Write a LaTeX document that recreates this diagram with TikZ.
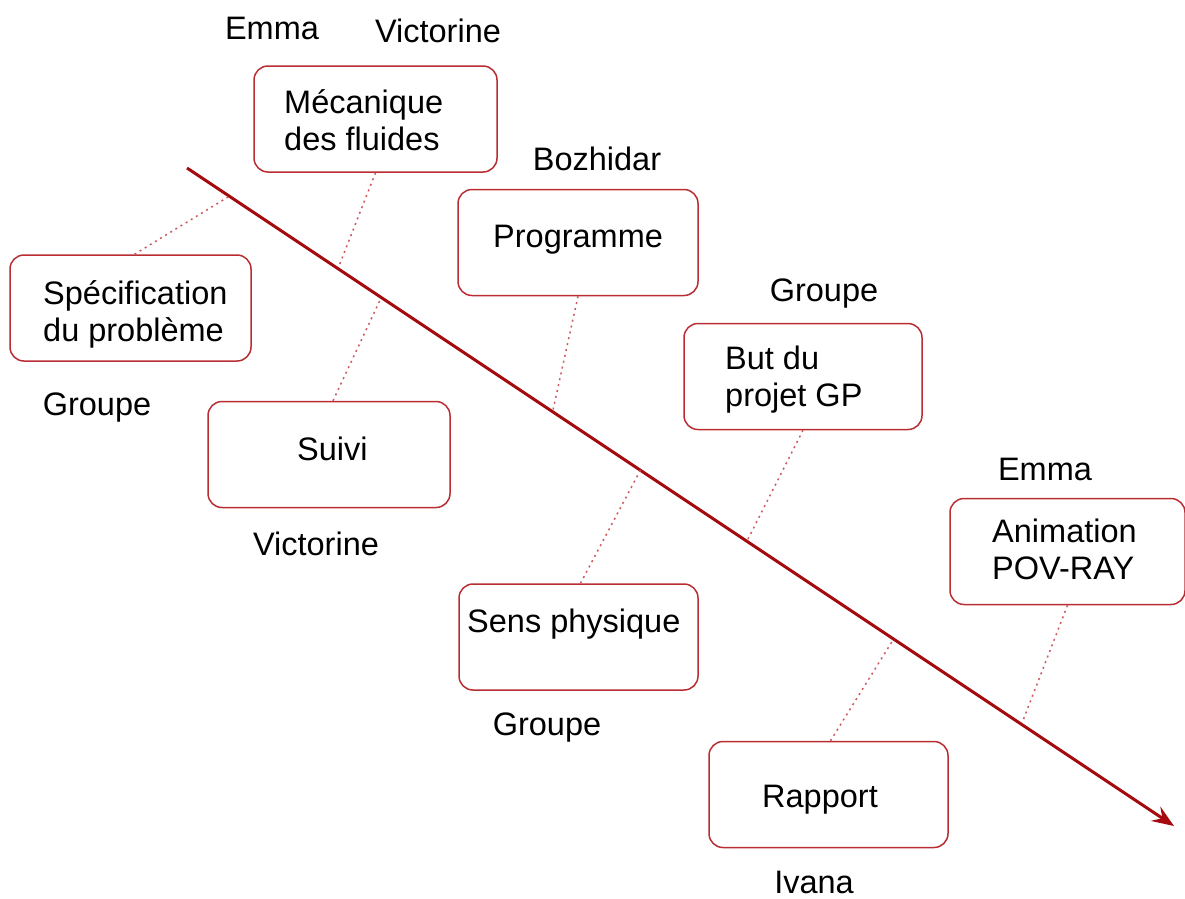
\documentclass[tikz,border=0pt]{standalone}
\usepackage{fontspec}
\setmainfont{Liberation Sans}
\usetikzlibrary{arrows.meta}
\definecolor{arrowred}{RGB}{165,10,15}
\definecolor{boxred}{RGB}{185,45,50}
\definecolor{dotred}{RGB}{205,90,95}
\begin{document}
\begin{tikzpicture}[x=1pt,y=-1pt,
  box/.style={draw=boxred,line width=1.5pt,rounded corners=14pt,minimum width=#1,minimum height=106pt,inner sep=0pt},
  box/.default=240pt,
  txt/.style={font=\fontsize{32.5}{37}\selectfont,inner sep=0pt,anchor=west,align=left},
  lbl/.style={font=\fontsize{32.5}{37}\selectfont,inner sep=0pt},
  link/.style={draw=dotred,line width=1.5pt,dash pattern=on 2pt off 4pt},
  main/.style={draw=arrowred,line width=3pt,-{Stealth[length=22pt,width=17pt,inset=8pt]}}]
\useasboundingbox (0,0) rectangle (1185,898);
% main arrow
\coordinate (a0) at (187,168);
\coordinate (a1) at (1174,826);
\draw[main] (a0) -- (a1);
% boxes
\node[box=243pt] (mec) at (375.5,119) {};
\node[box=241pt] (spe) at (130.5,308) {};
\node[box=240pt] (pro) at (578,242.5) {};
\node[box=242pt] (sui) at (329,454.5) {};
\node[box=238pt] (but) at (803,376.5) {};
\node[box=239pt] (sen) at (578.5,637) {};
\node[box=235pt] (ani) at (1067.5,551.5) {};
\node[box=239pt] (rap) at (828.5,794.5) {};
% box texts
\node[txt] (mect) at (284,120) {Mécanique\\des fluides};
\node[txt] (spet) at (43,314) {Spécification\\du problème};
\node[txt] (prot) at (493,240) {Programme};
\node[txt] (suit) at (297,449) {Suivi};
\node[txt] (butt) at (725,380) {But du\\projet GP};
\node[txt] (sent) at (467,624) {Sens physique};
\node[txt] (anit) at (992,549) {Animation\\POV-RAY};
\node[txt] (rapt) at (762,800) {Rapport};
% labels
\node[lbl] (l1) at (272,28) {Emma};
\node[lbl] (l2) at (438,31) {Victorine};
\node[lbl] (l3) at (597,159) {Bozhidar};
\node[lbl] (l4) at (824,294) {Groupe};
\node[lbl] (l5) at (1045,469) {Emma};
\node[lbl] (l6) at (97,408) {Groupe};
\node[lbl] (l7) at (316,544) {Victorine};
\node[lbl] (l8) at (547,728) {Groupe};
\node[lbl] (l9) at (814,882) {Ivana};
% points on arrow
\coordinate (p1) at (228,197);
\coordinate (p2) at (339,266);
\coordinate (p3) at (381,298);
\coordinate (p4) at (553,410);
\coordinate (p5) at (641,469);
\coordinate (p6) at (747,541);
\coordinate (p7) at (893,640);
\coordinate (p8) at (1022,723);
% dotted links
\draw[link] ([xshift=4pt]spe.north) -- (p1);
\draw[link] (mec.south) -- (p2);
\draw[link] ([xshift=4pt]sui.north) -- (p3);
\draw[link] (pro.south) -- (p4);
\draw[link] ([xshift=2pt]sen.north) -- (p5);
\draw[link] (but.south) -- (p6);
\draw[link] ([xshift=2pt]rap.north) -- (p7);
\draw[link] (ani.south) -- (p8);
\end{tikzpicture}
\end{document}
